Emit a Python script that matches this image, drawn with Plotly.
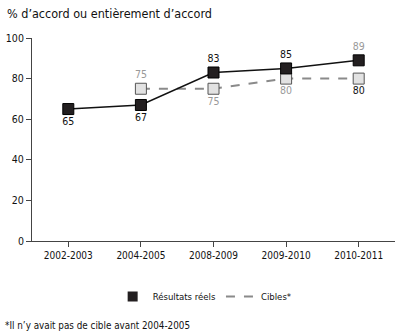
import plotly.graph_objects as go

categories = ["2002-2003", "2004-2005", "2008-2009", "2009-2010", "2010-2011"]
resultats = [65, 67, 83, 85, 89]
cibles = [None, 75, 75, 80, 80]
res_labels = ["65", "67", "83", "85", "89"]
cib_labels = ["", "75", "75", "80", "80"]
y_ticks = [0, 20, 40, 60, 80, 100]

FONT = "DejaVu Sans Condensed, Liberation Sans Narrow, sans-serif"

fig = go.Figure()

fig.add_trace(go.Scatter(
    x=categories, y=cibles, mode="lines+markers+text",
    text=cib_labels,
    textposition=["top center", "top center", "bottom center", "bottom center", "bottom center"],
    textfont=dict(color=["#999999", "#999999", "#999999", "#999999", "#111111"], size=10.5, family=FONT),
    line=dict(color="#8a8a8a", width=2, dash="dash"),
    marker=dict(symbol="square", size=11, color="#e2e2e2", line=dict(color="#555555", width=1)),
    showlegend=False, cliponaxis=False,
))

fig.add_trace(go.Scatter(
    x=categories, y=resultats, mode="lines+markers+text",
    text=res_labels,
    textposition=["bottom center", "bottom center", "top center", "top center", "top center"],
    textfont=dict(color=["#111111", "#111111", "#111111", "#111111", "#999999"], size=10.5, family=FONT),
    line=dict(color="#111111", width=1.5),
    marker=dict(symbol="square", size=11, color="#231f20", line=dict(color="#000000", width=1)),
    showlegend=False, cliponaxis=False,
))

# legend entries
fig.add_trace(go.Scatter(
    x=[None], y=[None], mode="markers", name="Résultats réels",
    marker=dict(symbol="square", size=10, color="#231f20"),
))
fig.add_trace(go.Scatter(
    x=[None], y=[None], mode="lines", name="Cibles*",
    line=dict(color="#8a8a8a", width=2, dash="dash"),
))

fig.update_layout(
    width=400, height=334,
    margin=dict(l=31.6, r=4.6, t=38, b=93.3),
    paper_bgcolor="white", plot_bgcolor="white",
    font=dict(family=FONT, size=10, color="#111111"),
    legend=dict(orientation="h", x=0.477, xanchor="center", y=-0.273, yanchor="middle",
                font=dict(size=9.5, family=FONT), itemwidth=30, tracegroupgap=0),
    annotations=[
        dict(text="% d’accord ou entièrement d’accord", xref="paper", yref="paper",
             x=-0.075, y=1.12, xanchor="left", yanchor="middle", showarrow=False,
             font=dict(size=12.5, family=FONT, color="#111111")),
        dict(text="*Il n’y avait pas de cible avant 2004-2005", xref="paper", yref="paper",
             x=-0.079, y=-0.416, xanchor="left", yanchor="middle", showarrow=False,
             font=dict(size=9.8, family=FONT, color="#111111")),
    ],
)

fig.update_xaxes(
    type="category", range=[-0.5, 4.5], showline=True, linecolor="#444444", linewidth=1,
    ticks="outside", ticklen=5, tickcolor="#444444", showgrid=False, zeroline=False,
    tickfont=dict(size=10, family=FONT),
)
fig.update_yaxes(
    range=[0, 100], tickvals=y_ticks, showline=True, linecolor="#444444", linewidth=1,
    ticks="outside", ticklen=5, tickcolor="#444444", showgrid=False, zeroline=False,
    tickfont=dict(size=10.5, family=FONT),
)

fig.write_html("out.html")
